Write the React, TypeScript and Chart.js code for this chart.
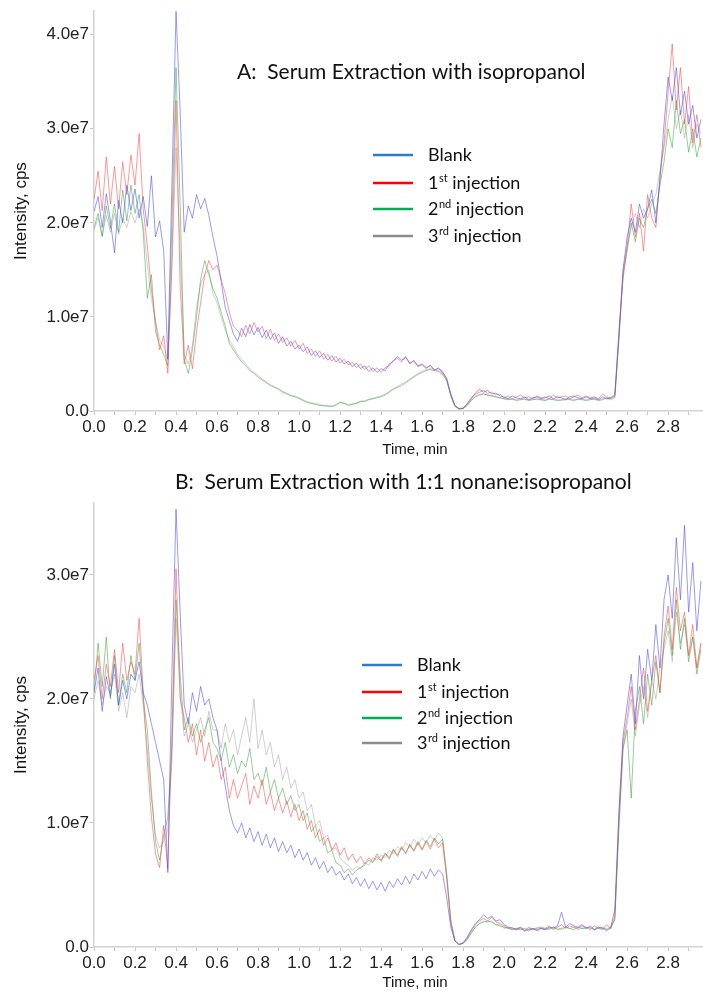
import React, { useEffect, useRef } from "react";
import { Chart, registerables } from "chart.js";

Chart.register(...registerables);

// Retention time grid (min)
const TIME_MIN = [
  0.0, 0.02, 0.04, 0.06, 0.08, 0.1, 0.12, 0.14, 0.16, 0.18,
  0.2, 0.22, 0.24, 0.26, 0.28, 0.3, 0.32, 0.34, 0.36, 0.38,
  0.4, 0.42, 0.44, 0.46, 0.48, 0.5, 0.52, 0.54, 0.56, 0.58,
  0.6, 0.62, 0.64, 0.66, 0.68, 0.7, 0.72, 0.74, 0.76, 0.78,
  0.8, 0.82, 0.84, 0.86, 0.88, 0.9, 0.92, 0.94, 0.96, 0.98,
  1.0, 1.02, 1.04, 1.06, 1.08, 1.1, 1.12, 1.14, 1.16, 1.18,
  1.2, 1.22, 1.24, 1.26, 1.28, 1.3, 1.32, 1.34, 1.36, 1.38,
  1.4, 1.42, 1.44, 1.46, 1.48, 1.5, 1.52, 1.54, 1.56, 1.58,
  1.6, 1.62, 1.64, 1.66, 1.68, 1.7, 1.72, 1.74, 1.76, 1.78,
  1.8, 1.82, 1.84, 1.86, 1.88, 1.9, 1.92, 1.94, 1.96, 1.98,
  2.0, 2.02, 2.04, 2.06, 2.08, 2.1, 2.12, 2.14, 2.16, 2.18,
  2.2, 2.22, 2.24, 2.26, 2.28, 2.3, 2.32, 2.34, 2.36, 2.38,
  2.4, 2.42, 2.44, 2.46, 2.48, 2.5, 2.52, 2.54, 2.56, 2.58,
  2.6, 2.62, 2.64, 2.66, 2.68, 2.7, 2.72, 2.74, 2.76, 2.78,
  2.8, 2.82, 2.84, 2.86, 2.88, 2.9, 2.92, 2.94, 2.96,
];

// Panel A: isopropanol extraction, intensity in millions of cps
const A_BLANK = [
  21.2, 22.8, 19.5, 23.1, 20.2, 16.8, 22.4, 20.0, 24.0, 21.3,
  23.6, 20.5, 22.8, 19.6, 25.0, 18.5, 20.2, 17.0, 5.5, 24.0,
  42.5, 32.0, 19.0, 21.8, 20.5, 23.0, 21.5, 22.6, 20.8, 18.5,
  16.5, 13.8, 11.0, 9.6, 8.2, 7.4, 8.8, 7.9, 9.2, 8.1,
  8.9, 7.8, 8.6, 7.6, 8.3, 7.2, 7.9, 6.9, 7.4, 6.6,
  7.0, 6.3, 6.8, 5.9, 6.4, 5.7, 6.1, 5.4, 5.9, 5.2,
  5.6, 5.0, 5.3, 4.7, 5.1, 4.5, 4.8, 4.2, 4.6, 4.1,
  4.5, 4.3, 5.0, 5.3, 5.8, 5.4, 5.7, 5.1, 5.3, 4.8,
  5.0, 4.6, 4.8, 4.4, 4.5, 4.1, 3.5, 1.8, 0.6, 0.25,
  0.3, 0.8, 1.4, 1.9, 2.3, 2.0, 2.2, 1.8, 1.9, 1.6,
  1.5, 1.3, 1.6, 1.4, 1.3, 1.5, 1.2, 1.4, 1.5, 1.3,
  1.4, 1.6, 1.3, 1.5, 1.4, 1.2, 1.5, 1.6, 1.4, 1.3,
  1.5, 1.3, 1.4, 1.2, 1.5, 1.3, 1.4, 1.8, 8.0, 15.0,
  18.5, 20.5, 19.0, 22.0, 20.5, 21.5, 23.5, 20.0, 24.5, 30.5,
  35.5, 33.0, 36.5, 31.5, 34.0, 30.5, 32.5, 29.0, 31.0,
];
const A_INJ1 = [
  22.5, 25.5, 21.3, 27.0, 22.0, 26.0, 21.5, 26.5, 23.0, 27.2,
  24.0, 29.5, 21.5, 17.5, 13.0, 9.5, 6.5, 8.0, 4.0, 16.0,
  33.0, 13.5, 5.0, 7.0, 4.5, 8.5, 11.5, 14.5, 16.0, 15.0,
  15.5, 14.0, 12.5, 10.5, 9.0, 8.6, 7.9, 9.1, 8.2, 9.4,
  8.4, 9.0, 7.7, 8.7, 7.5, 8.2, 7.3, 7.8, 6.9, 7.5,
  6.6, 7.2, 6.1, 6.6, 5.8, 6.4, 5.5, 6.0, 5.3, 5.8,
  5.1, 5.5, 4.9, 5.2, 4.6, 5.0, 4.4, 4.8, 4.2, 4.6,
  4.1, 4.6, 4.8, 5.4, 5.6, 5.2, 5.8, 5.0, 5.4, 4.7,
  4.9, 4.5, 4.9, 4.3, 4.6, 4.2, 3.4, 1.7, 0.6, 0.25,
  0.3, 0.7, 1.3, 1.8, 2.0, 2.2, 1.9, 2.0, 1.7, 1.8,
  1.4, 1.6, 1.3, 1.5, 1.7, 1.4, 1.5, 1.3, 1.6, 1.4,
  1.5, 1.3, 1.7, 1.4, 1.5, 1.6, 1.3, 1.5, 1.7, 1.4,
  1.6, 1.4, 1.5, 1.3, 1.8, 1.5, 1.4, 1.6, 8.5, 14.0,
  17.5, 22.0, 18.5, 21.0, 17.0, 23.0, 20.5, 19.5, 25.0, 28.5,
  34.0, 39.0, 32.0, 36.5, 30.5, 34.5, 28.5, 31.5, 28.0,
];
const A_INJ2 = [
  19.5, 21.0, 18.6, 21.8, 19.4, 22.0, 19.0, 23.5, 20.2, 24.0,
  21.0, 23.0, 19.0, 12.0, 14.5, 8.5, 7.0, 6.0, 4.8, 20.0,
  36.5, 22.0, 5.5, 4.0, 6.5, 10.0, 14.0, 16.0, 14.5, 13.0,
  12.0, 10.5, 9.0, 7.2, 6.5, 5.8, 5.2, 4.8, 4.3, 4.0,
  3.6, 3.3, 3.0, 2.7, 2.5, 2.3, 2.0, 1.8, 1.6, 1.5,
  1.3, 1.1, 0.9, 0.8, 0.7, 0.6, 0.55, 0.5, 0.45, 0.6,
  0.9, 0.8, 0.6, 0.7, 0.8, 1.0, 1.0, 1.2, 1.3, 1.4,
  1.5, 1.7, 2.0, 2.3, 2.5, 2.7, 3.0, 3.3, 3.6, 3.9,
  4.1, 4.3, 4.4, 4.3, 4.2, 3.9, 3.2, 1.6, 0.5, 0.2,
  0.25, 0.6, 1.1, 1.5, 1.7, 1.8, 1.7, 1.6, 1.5, 1.4,
  1.3, 1.2, 1.3, 1.1, 1.2, 1.3, 1.1, 1.2, 1.3, 1.2,
  1.1, 1.3, 1.2, 1.1, 1.2, 1.3, 1.2, 1.1, 1.3, 1.2,
  1.1, 1.2, 1.3, 1.1, 1.2, 1.4, 1.3, 1.5, 7.5, 14.5,
  17.0, 20.0, 18.0, 20.5, 19.5, 21.5, 22.5, 21.0, 24.0, 26.5,
  30.0, 28.0, 33.0, 29.5, 31.0, 27.5, 30.0, 27.0, 29.0,
];
const A_INJ3 = [
  19.2, 20.5, 18.5, 20.8, 19.0, 21.0, 18.8, 20.5, 19.5, 21.2,
  20.0, 21.5, 19.8, 15.5, 12.0, 9.5, 7.5, 6.8, 5.5, 15.0,
  28.0, 17.0, 6.0, 5.0, 7.0, 11.0, 13.5, 14.5, 15.0, 12.5,
  11.5, 10.0, 8.6, 7.5, 6.8, 6.0, 5.5, 5.0, 4.5, 4.1,
  3.8, 3.4, 3.1, 2.8, 2.6, 2.4, 2.1, 1.9, 1.7, 1.6,
  1.4, 1.2, 1.0, 0.9, 0.8, 0.7, 0.6, 0.6, 0.55, 0.7,
  0.95, 0.85, 0.7, 0.75, 0.85, 1.05, 1.1, 1.25, 1.35, 1.5,
  1.6, 1.8, 2.1, 2.4, 2.6, 2.9, 3.1, 3.4, 3.7, 4.0,
  4.2, 4.4, 4.5, 4.4, 4.3, 4.0, 3.3, 1.7, 0.5, 0.2,
  0.25, 0.6, 1.2, 1.6, 1.8, 1.8, 1.7, 1.6, 1.5, 1.4,
  1.3, 1.3, 1.2, 1.2, 1.3, 1.2, 1.2, 1.3, 1.2, 1.2,
  1.2, 1.2, 1.3, 1.2, 1.1, 1.2, 1.3, 1.2, 1.2, 1.3,
  1.2, 1.3, 1.2, 1.2, 1.3, 1.3, 1.2, 1.4, 8.0, 15.0,
  17.5, 19.5, 21.0, 19.5, 21.5, 20.5, 22.0, 23.0, 25.5, 28.0,
  31.0, 33.5, 30.0, 32.0, 29.0, 31.5, 28.0, 30.5, 29.5,
];

// Panel B: 1:1 nonane:isopropanol extraction, intensity in millions of cps
const B_BLANK = [
  20.5, 22.5, 19.0, 21.8, 20.2, 22.8, 19.5, 21.5, 20.0, 22.0,
  21.5, 23.0, 20.5, 19.5, 18.0, 16.5, 15.0, 13.5, 6.0, 22.0,
  35.3, 27.0, 19.5, 18.0, 20.5, 19.0, 21.0, 19.5, 20.0, 18.5,
  17.5, 15.0, 13.0, 11.0, 9.8, 9.2, 10.0, 8.8, 9.6, 8.5,
  9.3, 8.2, 9.1, 8.0, 8.8, 7.7, 8.5, 7.6, 8.2, 7.2,
  7.9, 7.0, 7.6, 6.6, 7.2, 6.3, 6.9, 6.0, 6.5, 5.8,
  6.1, 5.4, 5.9, 5.1, 5.6, 4.9, 5.5, 4.7, 5.3, 4.6,
  5.2, 4.5, 5.3, 4.8, 5.5, 5.0, 5.7, 5.1, 5.9, 5.4,
  6.1, 5.5, 6.3, 5.7, 6.2, 5.9, 4.0, 1.6, 0.5, 0.2,
  0.35, 0.8, 1.4, 1.9, 2.2, 2.6, 2.3, 2.5, 2.1, 2.2,
  1.8, 1.6, 1.5, 1.4, 1.6, 1.3, 1.4, 1.5, 1.3, 1.5,
  1.4, 1.6, 1.5, 1.7, 2.8, 1.6, 1.9, 1.7, 1.6, 1.8,
  1.5, 1.7, 1.4, 1.6, 1.5, 1.3, 1.6, 3.0, 11.0, 17.0,
  19.5, 22.0, 18.0, 23.5, 20.0, 24.0, 21.5, 26.0, 22.5, 28.0,
  30.0, 26.5, 33.0, 28.0, 34.0, 27.0, 31.0, 25.5, 29.5,
];
const B_INJ1 = [
  21.5, 23.5, 20.0, 22.8, 21.0, 24.0, 20.5, 24.5, 21.5, 23.0,
  22.0, 26.5, 20.5, 15.0, 10.5, 7.5, 6.4, 9.8, 6.3, 17.0,
  30.5, 20.0, 18.5, 16.5, 18.0, 15.5, 17.5, 15.0, 16.5, 14.5,
  15.5, 13.5, 14.5, 12.0, 13.5, 12.0, 13.0, 14.0, 11.5, 13.0,
  12.0, 13.5, 11.5, 12.5, 11.0, 12.0, 10.8, 11.8, 10.5, 11.5,
  10.2, 11.0, 9.5, 10.2, 8.8, 9.5, 8.2, 8.8, 7.8, 8.4,
  7.4, 8.0, 7.0, 7.5, 6.8, 7.3, 6.7, 7.2, 6.9, 7.5,
  7.0, 7.6, 7.2, 7.9, 7.4, 8.1, 7.5, 8.3, 7.7, 8.4,
  7.8, 8.5, 7.9, 8.7, 8.0, 8.4, 5.5, 2.0, 0.5, 0.2,
  0.3, 0.7, 1.3, 1.8, 2.1, 2.3, 2.1, 2.4, 2.0, 1.9,
  1.7, 1.5, 1.6, 1.4, 1.5, 1.3, 1.6, 1.4, 1.5, 1.6,
  1.5, 1.7, 1.4, 1.6, 1.8, 1.5, 1.7, 1.6, 1.5, 1.7,
  1.6, 1.4, 1.7, 1.5, 1.4, 1.8, 1.5, 2.5, 10.5, 16.5,
  18.5, 21.0, 17.5, 20.0, 22.5, 19.0, 21.5, 23.5, 20.5, 25.0,
  27.5, 24.0, 29.0, 25.5, 27.0, 23.5, 26.0, 22.5, 24.5,
];
const B_INJ2 = [
  20.5, 24.5, 21.0, 25.0, 20.0, 23.5, 19.5, 22.0, 20.5, 23.5,
  21.5, 24.5, 20.0, 17.5, 12.5, 8.5, 7.0, 9.0, 10.5, 16.0,
  28.0, 22.0, 17.5, 18.5, 17.0, 18.0, 16.5, 17.5, 18.5, 16.5,
  16.0, 15.0, 16.5, 14.5, 15.5, 14.0, 15.0, 14.5, 16.0, 13.5,
  14.0, 13.0, 14.5, 12.5, 13.5, 12.0, 12.8, 11.5, 12.2, 11.0,
  11.5, 10.2, 10.8, 9.3, 9.8, 8.5, 8.8, 7.6, 7.8, 6.8,
  6.6, 6.0, 6.3, 5.8, 6.2, 6.4, 6.6, 7.0, 6.8, 7.3,
  6.9, 7.5, 7.1, 7.8, 7.3, 8.0, 7.6, 8.2, 7.8, 8.5,
  7.9, 8.6, 8.1, 8.8, 8.3, 8.7, 5.8, 2.1, 0.5, 0.2,
  0.3, 0.6, 1.1, 1.6, 1.9, 2.0, 2.1, 2.0, 1.8, 1.7,
  1.6, 1.5, 1.4, 1.5, 1.4, 1.5, 1.3, 1.5, 1.4, 1.5,
  1.4, 1.5, 1.6, 1.4, 1.5, 1.6, 1.5, 1.4, 1.6, 1.5,
  1.5, 1.6, 1.4, 1.5, 1.6, 1.4, 1.5, 2.2, 9.5, 16.0,
  17.5, 12.0, 19.0, 21.0, 18.0, 22.0, 19.5, 23.0, 20.5, 24.5,
  26.5, 23.5, 28.0, 24.0, 26.5, 23.0, 25.0, 22.0, 24.0,
];
const B_INJ3 = [
  20.0, 21.5, 19.5, 21.0, 20.5, 22.0, 19.0, 20.5, 18.5, 21.0,
  20.5, 22.0, 19.5, 16.0, 12.0, 9.0, 8.0, 8.5, 9.5, 15.0,
  26.5, 20.5, 17.0, 18.0, 16.5, 17.5, 18.5, 17.0, 19.0, 17.5,
  17.5, 16.0, 18.0, 16.5, 17.5, 15.5, 17.0, 18.5, 16.5, 20.0,
  16.0, 17.5, 15.5, 16.5, 14.5, 15.5, 13.5, 14.5, 12.8, 13.5,
  12.0, 12.5, 11.0, 11.5, 9.8, 10.2, 8.8, 9.0, 7.9, 8.0,
  7.2, 6.8, 6.6, 6.2, 6.5, 6.3, 6.8, 6.6, 7.2, 7.0,
  7.4, 7.2, 7.8, 7.5, 8.1, 7.8, 8.4, 8.0, 8.7, 8.2,
  8.8, 8.4, 9.0, 8.6, 9.2, 8.8, 6.0, 2.2, 0.5, 0.2,
  0.3, 0.6, 1.2, 1.6, 1.9, 2.1, 2.0, 2.1, 1.8, 1.8,
  1.5, 1.6, 1.4, 1.5, 1.6, 1.4, 1.5, 1.4, 1.6, 1.5,
  1.5, 1.4, 1.6, 1.5, 1.4, 1.6, 1.5, 1.6, 1.4, 1.5,
  1.6, 1.5, 1.4, 1.6, 1.5, 1.5, 1.6, 2.3, 10.0, 16.0,
  18.0, 20.0, 17.0, 19.5, 21.0, 18.5, 21.5, 20.0, 22.5, 24.0,
  25.5, 23.0, 27.0, 24.5, 26.0, 23.5, 25.0, 22.5, 24.5,
];

// Axis tick positions: labelled every 0.2 min, marks every 0.1 min
const X_TICK_VALUES = [
  0.0, 0.1, 0.2, 0.3, 0.4, 0.5, 0.6, 0.7, 0.8, 0.9,
  1.0, 1.1, 1.2, 1.3, 1.4, 1.5, 1.6, 1.7, 1.8, 1.9,
  2.0, 2.1, 2.2, 2.3, 2.4, 2.5, 2.6, 2.7, 2.8, 2.9,
];
const X_LABELED = [0.0, 0.2, 0.4, 0.6, 0.8, 1.0, 1.2, 1.4, 1.6, 1.8, 2.0, 2.2, 2.4, 2.6, 2.8];
const Y_TICKS_A = [0, 1e7, 2e7, 3e7, 4e7];
const Y_TICKS_B = [0, 1e7, 2e7, 3e7];
const X_MAX = 2.97;

const SERIES_NAMES = ["Blank", "1st injection", "2nd injection", "3rd injection"];
const LEGEND_PARTS = [
  { base: "Blank", sup: "", rest: "" },
  { base: "1", sup: "st", rest: " injection" },
  { base: "2", sup: "nd", rest: " injection" },
  { base: "3", sup: "rd", rest: " injection" },
];
const TRACE_COLORS = [
  "rgba(70, 70, 255, 0.55)",
  "rgba(255, 70, 70, 0.55)",
  "rgba(20, 150, 20, 0.45)",
  "rgba(150, 150, 150, 0.45)",
];
const LEGEND_COLORS = ["#2e7cd0", "#ff0000", "#00b050", "#8c8c8c"];

const TICK_FONT = "'Liberation Sans', Arial, sans-serif";
const TEXT_FONT = "Lato, 'Open Sans', sans-serif";

type Decor = {
  title: string;
  titleX: number;
  titleY: number;
  legendX: number;
  legendRows: number[];
  xTitleGap: number;
};

function makeDecor(d: Decor) {
  return {
    id: "panelDecor",
    afterDraw(chart: any) {
      const ctx: CanvasRenderingContext2D = chart.ctx;
      const area = chart.chartArea;
      ctx.save();
      ctx.fillStyle = "#111";
      ctx.textBaseline = "middle";
      ctx.textAlign = "left";

      // panel heading
      ctx.font = `21px ${TEXT_FONT}`;
      ctx.fillText(d.title, d.titleX, d.titleY);

      // legend with superscript ordinals
      LEGEND_PARTS.forEach((p, i) => {
        const y = d.legendRows[i];
        ctx.strokeStyle = LEGEND_COLORS[i];
        ctx.lineWidth = 2.5;
        ctx.beginPath();
        ctx.moveTo(d.legendX, y);
        ctx.lineTo(d.legendX + 40, y);
        ctx.stroke();
        let x = d.legendX + 55;
        ctx.font = `18px ${TEXT_FONT}`;
        ctx.fillText(p.base, x, y);
        x += ctx.measureText(p.base).width;
        if (p.sup) {
          ctx.font = `11px ${TEXT_FONT}`;
          ctx.fillText(p.sup, x + 0.5, y - 5);
          x += ctx.measureText(p.sup).width + 0.5;
          ctx.font = `18px ${TEXT_FONT}`;
          ctx.fillText(p.rest, x, y);
        }
      });

      // axis titles
      ctx.font = `15px ${TICK_FONT}`;
      ctx.textAlign = "center";
      ctx.fillText("Time, min", 415, area.bottom + d.xTitleGap);
      ctx.translate(21, (area.top + area.bottom) / 2);
      ctx.rotate(-Math.PI / 2);
      ctx.font = `17px ${TICK_FONT}`;
      ctx.fillText("Intensity, cps", 0, 0);
      ctx.restore();
    },
  };
}

const isLabeled = (v: number) => X_LABELED.some((l) => Math.abs(l - v) < 1e-9);

function TracePanel(props: {
  height: number;
  padTop: number;
  xAxisHeight: number;
  yMax: number;
  yTicks: number[];
  series: number[][];
  decor: Decor;
}) {
  const ref = useRef<HTMLCanvasElement>(null);
  useEffect(() => {
    const datasets = props.series.map((vals, i) => ({
      label: SERIES_NAMES[i],
      data: TIME_MIN.map((t, k) => ({ x: t, y: vals[k] * 1e6 })),
      borderColor: TRACE_COLORS[i],
      borderWidth: 1,
      pointRadius: 0,
      tension: 0,
      fill: false,
    }));
    const chart = new Chart(ref.current as HTMLCanvasElement, {
      type: "line",
      data: { datasets },
      options: {
        animation: false,
        responsive: false,
        events: [],
        layout: { padding: { top: props.padTop, left: 0, right: 0, bottom: 0 } },
        plugins: { legend: { display: false }, tooltip: { enabled: false } },
        scales: {
          x: {
            type: "linear",
            min: 0,
            max: X_MAX,
            afterBuildTicks: (ax: any) => {
              ax.ticks = X_TICK_VALUES.map((v) => ({ value: v }));
            },
            afterFit: (s: any) => {
              s.height = props.xAxisHeight;
            },
            ticks: {
              autoSkip: false,
              maxRotation: 0,
              padding: 2,
              color: "#222",
              font: { family: TICK_FONT, size: 17 },
              callback: (v: any) => (isLabeled(Number(v)) ? Number(v).toFixed(1) : ""),
            },
            grid: { drawOnChartArea: false, drawTicks: true, tickLength: 4, color: "#c4c4c4" },
            border: { display: true, color: "#d2d2d2", width: 1.5 },
          },
          y: {
            type: "linear",
            min: 0,
            max: props.yMax,
            afterBuildTicks: (ax: any) => {
              ax.ticks = props.yTicks.map((v) => ({ value: v }));
            },
            afterFit: (s: any) => {
              s.width = 94;
            },
            ticks: {
              autoSkip: false,
              padding: 1,
              color: "#222",
              font: { family: TICK_FONT, size: 17 },
              callback: (v: any) =>
                Number(v) === 0 ? "0.0" : (Number(v) / 1e7).toFixed(1) + "e7",
            },
            grid: { drawOnChartArea: false, drawTicks: true, tickLength: 4, color: "#c4c4c4" },
            border: { display: true, color: "#d2d2d2", width: 1.5 },
          },
        },
      } as any,
      plugins: [makeDecor(props.decor)],
    });
    return () => chart.destroy();
  }, []);
  return (
    <canvas
      ref={ref}
      width={703}
      height={props.height}
      style={{ display: "block", width: 703, height: props.height }}
    />
  );
}

export default function App() {
  return (
    <div style={{ position: "absolute", left: 0, top: 0, width: 703, height: 993, background: "#fff" }}>
      <TracePanel
        height={462}
        padTop={9}
        xAxisHeight={51}
        yMax={4.25e7}
        yTicks={Y_TICKS_A}
        series={[A_BLANK, A_INJ1, A_INJ2, A_INJ3]}
        decor={{
          title: "A:  Serum Extraction with isopropanol",
          titleX: 237,
          titleY: 72,
          legendX: 373,
          legendRows: [155, 183, 209, 236],
          xTitleGap: 39,
        }}
      />
      <TracePanel
        height={531}
        padTop={41}
        xAxisHeight={46}
        yMax={3.58e7}
        yTicks={Y_TICKS_B}
        series={[B_BLANK, B_INJ1, B_INJ2, B_INJ3]}
        decor={{
          title: "B:  Serum Extraction with 1:1 nonane:isopropanol",
          titleX: 175,
          titleY: 20,
          legendX: 362,
          legendRows: [203, 230, 256, 281],
          xTitleGap: 36,
        }}
      />
    </div>
  );
}
